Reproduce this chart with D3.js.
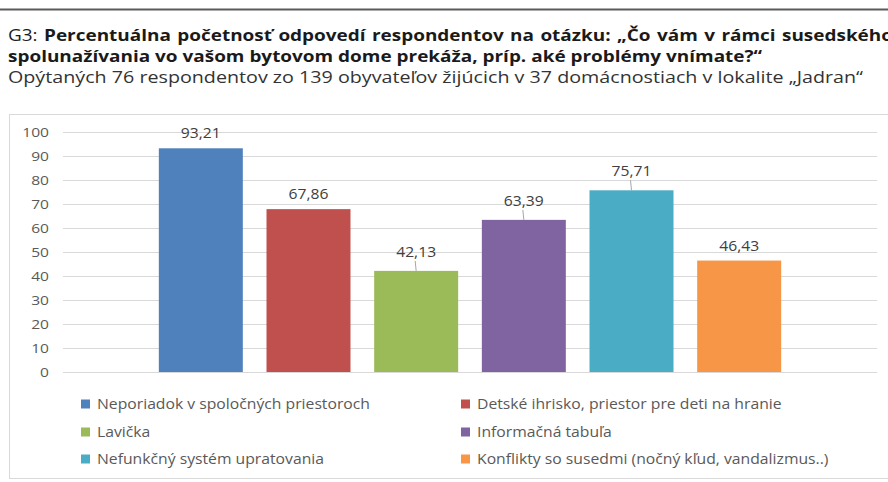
<!DOCTYPE html>
<html><head><meta charset="utf-8">
<script src="https://cdn.jsdelivr.net/npm/d3@7"></script>
<style>html,body{margin:0;padding:0;background:#fff;overflow:hidden}svg{display:block}</style>
</head><body>
<script>
const categories = [
  "Neporiadok v spoločných priestoroch",
  "Detské ihrisko, priestor pre deti na hranie",
  "Lavička",
  "Informačná tabuľa",
  "Nefunkčný systém upratovania",
  "Konflikty so susedmi (nočný kľud, vandalizmus..)"
];
const values = [93.21, 67.86, 42.13, 63.39, 75.71, 46.43];
const colors = ["#4f81bd", "#c0504d", "#9bbb59", "#8064a2", "#4bacc6", "#f79646"];
const yTicks = [0, 10, 20, 30, 40, 50, 60, 70, 80, 90, 100];
const titlePrefix = "G3:";
const titleLine1 = "Percentuálna početnosť odpovedí respondentov na otázku: „Čo vám v rámci susedského";
const titleLine2 = "spolunažívania vo vašom bytovom dome prekáža, príp. aké problémy vnímate?“";
const subtitle = "Opýtaných 76 respondentov zo 139 obyvateľov žijúcich v 37 domácnostiach v lokalite „Jadran“";
const leaderIdx = [2, 3, 4];

const W = 888, H = 482;
const svg = d3.select("body").append("svg").attr("width", W).attr("height", H);
const FONT = "'Open Sans', 'DejaVu Sans', sans-serif";
const TFONT = FONT;

function stretch(sel, f) {
  sel.each(function () {
    const w = this.getComputedTextLength();
    d3.select(this).attr("textLength", (w * f).toFixed(1)).attr("lengthAdjust", "spacingAndGlyphs");
  });
}

// top rule
svg.append("line").attr("x1", 0).attr("x2", W).attr("y1", 9.5).attr("y2", 9.5)
  .attr("stroke", "#5a5a5a").attr("stroke-width", 2);

// titles
const TFS = 15.5;
const t2 = svg.append("text").attr("x", 8).attr("y", 62).attr("font-family", TFONT)
  .attr("font-weight", "bold").attr("font-size", TFS).attr("fill", "#1a1a1a").text(titleLine2);
const ratio = 754 / t2.node().getComputedTextLength();
stretch(t2, ratio);

// justified first title line: one text per word
const words = [titlePrefix].concat(titleLine1.split(" "));
const g1 = svg.append("g");
const wt = words.map((w, i) => {
  const t = g1.append("text").attr("y", 41).attr("font-family", TFONT).attr("font-size", TFS)
    .attr("font-weight", i === 0 ? "normal" : "bold").attr("fill", "#1a1a1a").text(w);
  const nat = t.node().getComputedTextLength();
  t.attr("textLength", (nat * ratio).toFixed(1)).attr("lengthAdjust", "spacingAndGlyphs");
  return { t, w: nat * ratio };
});
const totalW = d3.sum(wt, d => d.w);
const gap = (893 - 8 - totalW) / (words.length - 1);
let cx0 = 8;
wt.forEach(d => { d.t.attr("x", cx0.toFixed(1)); cx0 += d.w + gap; });

const t3 = svg.append("text").attr("x", 8).attr("y", 83).attr("font-family", FONT)
  .attr("font-size", 15.5).attr("fill", "#333").text(subtitle);
stretch(t3, 855 / t3.node().getComputedTextLength());

// chart frame
svg.append("rect").attr("x", 9.5).attr("y", 114.5).attr("width", 900).attr("height", 364)
  .attr("fill", "none").attr("stroke", "#d9d9d9");

// scales
const x = d3.scaleBand().domain(d3.range(values.length)).range([63, 877])
  .paddingInner(0.22).paddingOuter(0.89);
const y = d3.scaleLinear().domain([0, 100]).range([372, 132]);

// gridlines
svg.append("g").selectAll("line").data(yTicks).join("line")
  .attr("x1", 63).attr("x2", 877)
  .attr("y1", d => Math.round(y(d)) + 0.5).attr("y2", d => Math.round(y(d)) + 0.5)
  .attr("stroke", "#d9d9d9").attr("stroke-width", 1);

// y axis labels
const yAxis = d3.axisLeft(y).tickValues(yTicks).tickSize(0).tickPadding(0);
const ga = svg.append("g").attr("transform", "translate(49,0)").call(yAxis);
ga.select(".domain").remove();
ga.selectAll("text").attr("font-family", FONT).attr("font-size", 13).attr("fill", "#595959");
stretch(ga.selectAll("text"), 1.2);

// bars
svg.append("g").selectAll("rect").data(values).join("rect")
  .attr("x", (d, i) => x(i)).attr("width", x.bandwidth())
  .attr("y", d => y(d)).attr("height", d => y(0) - y(d))
  .attr("fill", (d, i) => colors[i]);

// data labels
const fmt = d => d3.format(".2f")(d).replace(".", ",");
values.forEach((v, i) => {
  const cx = x(i) + x.bandwidth() / 2;
  const lead = leaderIdx.includes(i);
  const ly = y(v) - (lead ? 14 : 10);
  const t = svg.append("text").attr("x", cx).attr("y", ly).attr("text-anchor", "middle")
    .attr("font-family", FONT).attr("font-size", 14).attr("fill", "#404040").text(fmt(v));
  stretch(t, 1.12);
  if (lead) {
    svg.append("line").attr("x1", cx).attr("x2", cx - 1).attr("y1", y(v)).attr("y2", y(v) - 10)
      .attr("stroke", "#a6a6a6").attr("stroke-width", 1);
  }
});

// legend
const legX = [81, 461], legY = [404, 432, 459];
const lg = svg.append("g");
categories.forEach((c, i) => {
  const lx = legX[i % 2], ly = legY[Math.floor(i / 2)];
  lg.append("rect").attr("x", lx).attr("y", ly - 4.5).attr("width", 9).attr("height", 9).attr("fill", colors[i]);
  lg.append("text").attr("x", lx + 16).attr("y", ly).attr("dy", "0.35em")
    .attr("font-family", FONT).attr("font-size", 14).attr("fill", "#595959").text(c);
});
const n0 = lg.select("text").node().getComputedTextLength();
stretch(lg.selectAll("text"), 273 / n0);
</script>
</body></html>
